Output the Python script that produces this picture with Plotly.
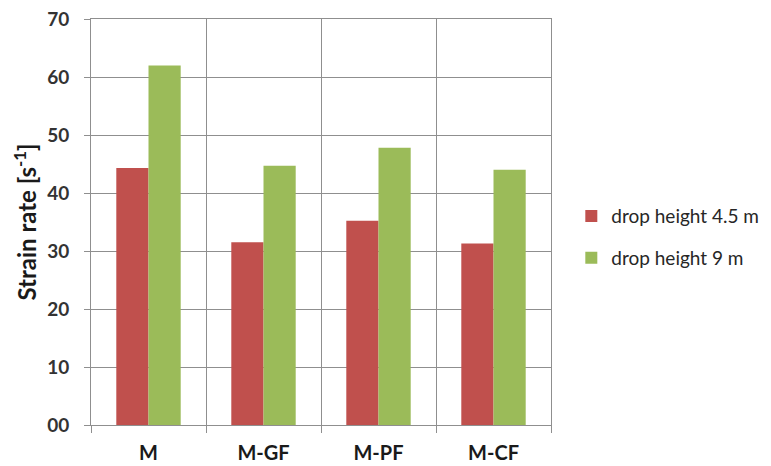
import plotly.graph_objects as go

# Specimen groups and measured strain rates
categories = ["M", "M-GF", "M-PF", "M-CF"]
rate_4_5m = [44.3, 31.5, 35.2, 31.3]
rate_9m = [62.0, 44.7, 47.8, 44.0]
series_names = ["drop height 4.5 m", "drop height 9 m"]
y_tick_values = [0, 10, 20, 30, 40, 50, 60, 70]
y_tick_labels = ["00", "10", "20", "30", "40", "50", "60", "70"]

FONT = "Lato, 'Open Sans', sans-serif"
GRID = "#8f8f8f"

fig = go.Figure()
fig.add_trace(go.Bar(x=categories, y=rate_4_5m, name=series_names[0],
                     marker=dict(color="#C0504D", line=dict(width=0)),
                     legendgroup="a"))
fig.add_trace(go.Bar(x=categories, y=rate_9m, name=series_names[1],
                     marker=dict(color="#9BBB59", line=dict(width=0)),
                     legendgroup="b"))

fig.update_layout(
    width=771, height=466,
    margin=dict(l=91, r=220, t=19, b=41, autoexpand=False),
    paper_bgcolor="white", plot_bgcolor="white",
    barmode="group", bargap=0.44, bargroupgap=0,
    font=dict(family=FONT, size=17, color="#262626"),
    legend=dict(xref="container", yref="container",
                x=0.741, y=0.491, xanchor="left", yanchor="middle",
                font=dict(family=FONT, size=19, color="#262626"),
                tracegroupgap=14, traceorder="grouped"),
    xaxis=dict(
        type="category", range=[-0.5, 3.5],
        tickson="boundaries", ticks="outside", ticklen=7, tickcolor=GRID,
        showgrid=True, gridcolor=GRID, gridwidth=1,
        showline=True, linecolor=GRID, linewidth=1, mirror=True,
        ticklabelstandoff=10,
        tickfont=dict(family=FONT, size=20, color="#1a1a1a", weight="bold"),
    ),
    yaxis=dict(
        range=[0, 70], tickvals=y_tick_values, ticktext=y_tick_labels,
        ticks="outside", ticklen=6, tickcolor=GRID,
        showgrid=True, gridcolor=GRID, gridwidth=1,
        showline=True, linecolor=GRID, linewidth=1, mirror=True,
        zeroline=False, ticklabelstandoff=11,
        tickfont=dict(family=FONT, size=19, color="#333333", weight="bold"),
        title=dict(text="Strain rate [s<sup>-1</sup>]", standoff=3,
                   font=dict(family=FONT, size=24, color="#1a1a1a", weight="bold")),
    ),
)

fig.write_html("out.html")
